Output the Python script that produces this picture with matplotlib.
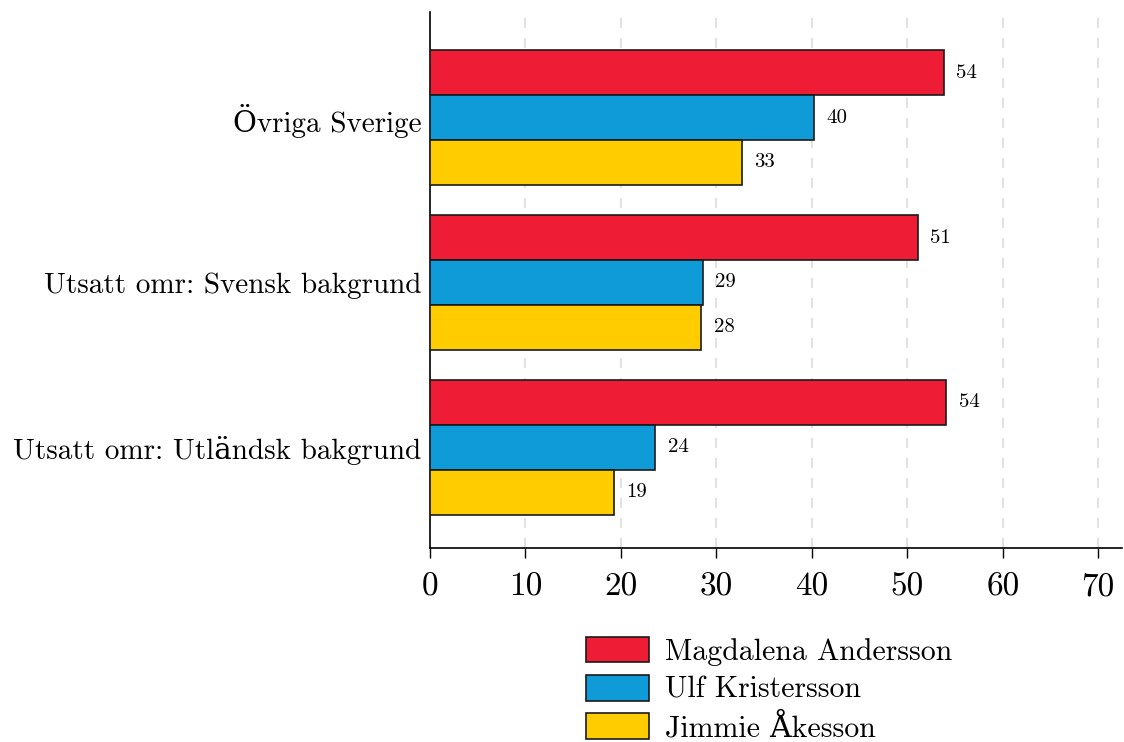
import matplotlib
matplotlib.use("Agg")
import matplotlib.pyplot as plt
import numpy as np
from matplotlib.patches import Patch

plt.rcParams['font.family'] = ['cmr10', 'DejaVu Serif']
plt.rcParams['axes.formatter.use_mathtext'] = True

categories = ["Övriga Sverige", "Utsatt omr: Svensk bakgrund", "Utsatt omr: Utländsk bakgrund"]
series_names = ["Magdalena Andersson", "Ulf Kristersson", "Jimmie Åkesson"]
andersson = [53.8, 51.1, 54.1]
kristersson = [40.2, 28.6, 23.6]
akesson = [32.7, 28.4, 19.3]
labels_andersson = [54, 51, 54]
labels_kristersson = [40, 29, 24]
labels_akesson = [33, 28, 19]
xticks = [0, 10, 20, 30, 40, 50, 60, 70]

colors = ["#EE1C35", "#0F9BD7", "#FFCC00"]
series = [andersson, kristersson, akesson]
series_labels = [labels_andersson, labels_kristersson, labels_akesson]

fig = plt.figure(figsize=(11.24, 7.42), dpi=100)
ax = fig.add_axes([0.3826, 0.2615, 0.6157, 0.7223])

ypos = np.array([2, 1, 0], dtype=float)
h = 0.272
offsets = [h, 0, -h]
for s, vals, labs, col, off in zip(series_names, series, series_labels, colors, offsets):
    ax.barh(ypos + off, vals, height=h, color=col, edgecolor="#1a1a1a", linewidth=1.2, label=s, zorder=3)
    for y, v, l in zip(ypos + off, vals, labs):
        ax.text(v + 1.3, y, str(l), va="center", ha="left", fontsize=15, zorder=4)

ax.set_xlim(0, 72.5)
ax.set_ylim(-0.61, 2.64)
ax.set_yticks(ypos)
ax.set_yticklabels(categories, fontsize=21)
ax.set_xticks(xticks)
ax.set_xticklabels([str(t) for t in xticks], fontsize=24)
ax.tick_params(axis="y", length=0, pad=6)
ax.tick_params(axis="x", length=7, width=1, direction="out", pad=11)
ax.grid(axis="x", color="#dddddd", linestyle=(0, (6, 6)), linewidth=1.2, zorder=0)
for sp in ["top", "right"]:
    ax.spines[sp].set_visible(False)
ax.spines["left"].set_linewidth(1.2)
ax.spines["bottom"].set_linewidth(1.2)

handles = [Patch(facecolor=c, edgecolor="#1a1a1a", linewidth=1.2) for c in colors]
fig.legend(handles, series_names, loc="upper left", bbox_to_anchor=(0.511, 0.158),
           frameon=False, fontsize=21.5, handlelength=2.1, handleheight=0.95,
           labelspacing=0.3, handletextpad=0.55, borderaxespad=0)

fig.savefig("out.png", dpi=100, facecolor="white")
